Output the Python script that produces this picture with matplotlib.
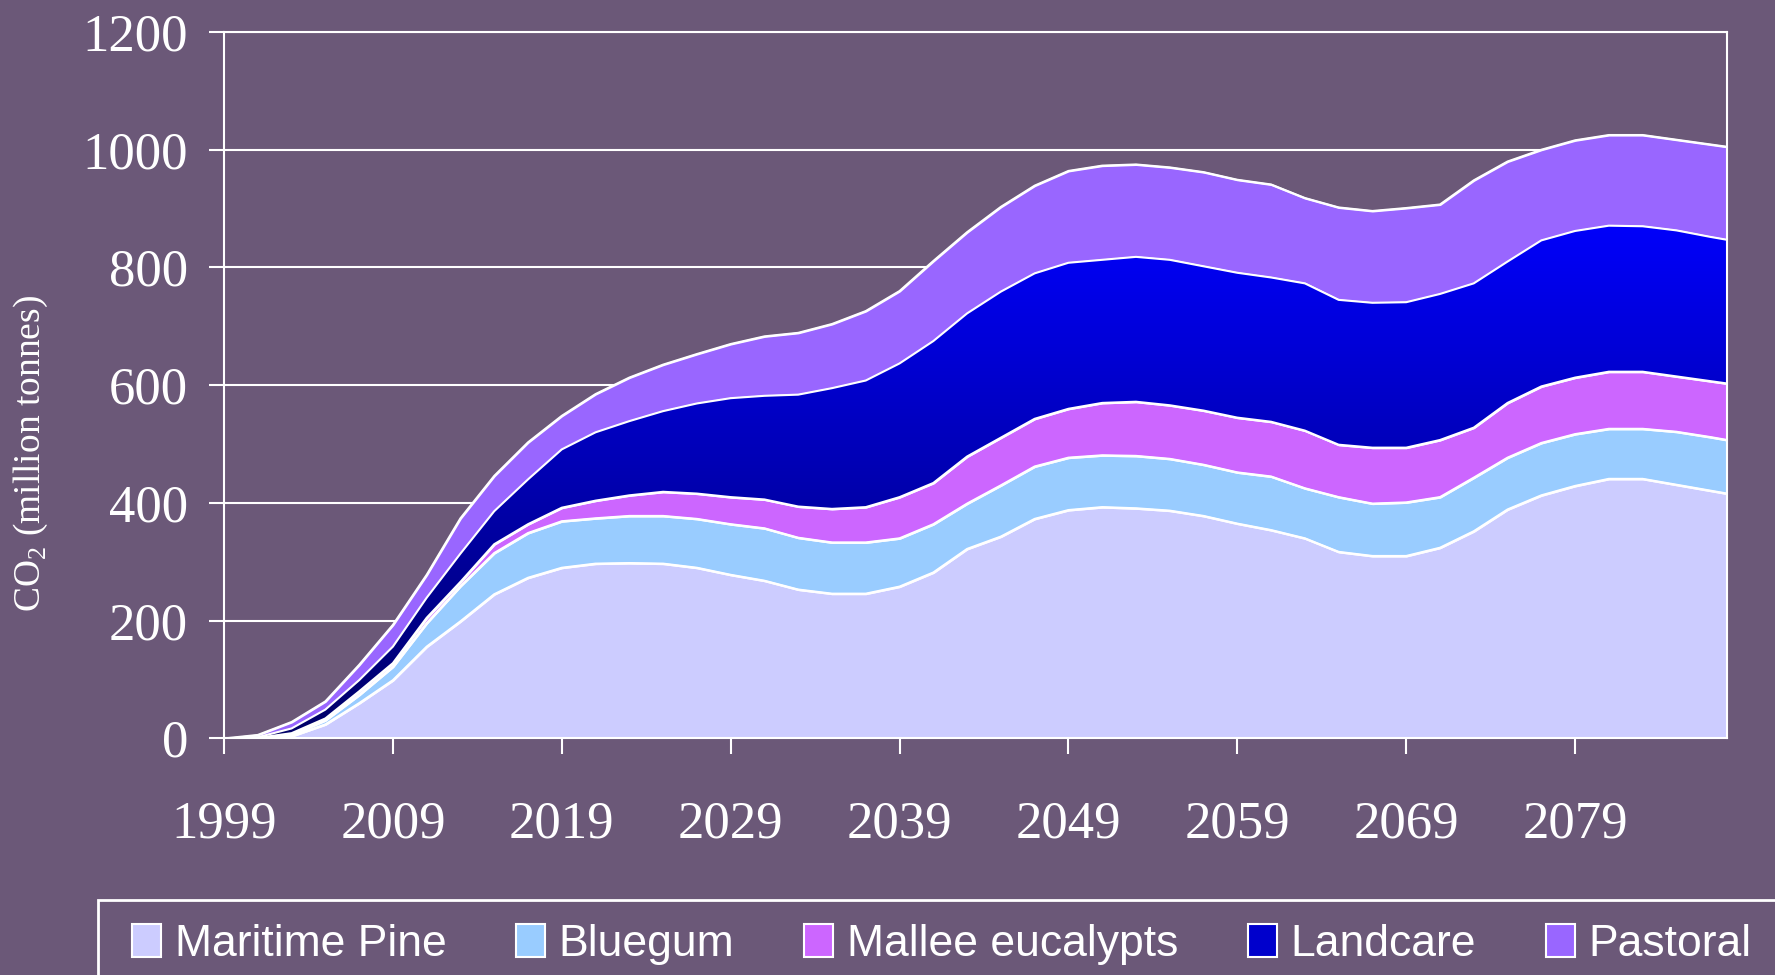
import numpy as np
import matplotlib.pyplot as plt
from matplotlib.patches import Rectangle
from matplotlib.colors import LinearSegmentedColormap

# carbon stored, million tonnes CO2
years = [1999, 2001, 2003, 2005, 2007, 2009, 2011, 2013, 2015, 2017, 2019, 2021,
         2023, 2025, 2027, 2029, 2031, 2033, 2035, 2037, 2039, 2041, 2043, 2045,
         2047, 2049, 2051, 2053, 2055, 2057, 2059, 2061, 2063, 2065, 2067, 2069,
         2071, 2073, 2075, 2077, 2079, 2081, 2083, 2085, 2087, 2088]
maritime_pine = [0, 0.5, 4, 24, 60, 99, 156, 199, 245, 273, 290, 297,
                 298, 297, 290, 278, 268, 253, 246, 246, 258, 282, 322, 343,
                 373, 388, 393, 391, 387, 378, 365, 354, 340, 317, 310, 310,
                 324, 352, 389, 413, 429, 441, 441, 431, 421, 416]
bluegum = [0, 0.5, 2, 7, 14, 23, 40, 60, 70, 76, 79, 77,
           80, 81, 83, 86, 89, 88, 87, 87, 82, 82, 77, 87,
           89, 89, 88, 89, 88, 87, 87, 91, 85, 93, 89, 91,
           86, 91, 88, 89, 88, 85, 85, 90, 91, 91]
mallee = [0, 0, 3, 3, 6, 6, 9, 7, 15, 15, 23, 30,
          35, 41, 43, 46, 49, 53, 57, 60, 70, 70, 80, 81,
          81, 83, 89, 92, 91, 92, 93, 93, 98, 89, 95, 93,
          97, 85, 93, 96, 96, 97, 97, 94, 95, 96]
landcare = [0, 1, 8, 15, 19, 28, 34, 48, 56, 76, 99, 116,
            126, 137, 153, 168, 176, 190, 205, 215, 227, 241, 243, 248,
            247, 248, 243, 246, 247, 245, 246, 245, 250, 246, 246, 247,
            248, 245, 240, 248, 249, 248, 247, 248, 245, 244]
pastoral = [0, 4, 11, 14, 26, 37, 39, 60, 60, 63, 57, 65,
            74, 79, 84, 92, 101, 105, 109, 118, 123, 136, 138, 144,
            149, 156, 160, 157, 157, 160, 158, 158, 145, 157, 156, 160,
            152, 175, 170, 154, 154, 154, 155, 154, 157, 158]

labels = ['Maritime Pine', 'Bluegum', 'Mallee eucalypts', 'Landcare', 'Pastoral']
colors = ['#ccccff', '#99ccff', '#cc66ff', '#0000cc', '#9966ff']
bg = '#6b5878'

plt.rcParams['mathtext.fontset'] = 'custom'
plt.rcParams['mathtext.rm'] = 'Liberation Serif'

fig = plt.figure(figsize=(17.75, 9.75), dpi=100, facecolor=bg)
ax = fig.add_axes([0.1262, 0.2426, 0.8468, 0.7246])
ax.set_facecolor('none')

series = [maritime_pine, bluegum, mallee, landcare, pastoral]
polys = ax.stackplot(years, *series, colors=colors, labels=labels,
                     edgecolor='white', linewidth=1.5, zorder=2)

# landcare band has a vertical gradient fill (dark navy at the bottom)
grad = np.linspace(0, 1, 256).reshape(-1, 1)
cmap = LinearSegmentedColormap.from_list('lc', ['#000066', '#0000ff'])
img = ax.imshow(grad, extent=(1999, 2088, 0, 900), origin='lower',
                aspect='auto', cmap=cmap, zorder=2.2)
img.set_clip_path(polys[3].get_paths()[0], ax.transData)

tops = np.cumsum(np.array(series, dtype=float), axis=0)
for t in tops:
    ax.plot(years, t, color='white', lw=1.5, zorder=3)

ax.set_xlim(1999, 2088)
ax.set_ylim(0, 1200)
ax.set_yticks(range(0, 1201, 200))
ax.set_xticks(range(1999, 2080, 10))
ax.yaxis.grid(True, color='white', lw=1.5)
ax.set_axisbelow(True)
for s in ax.spines.values():
    s.set_color('white')
    s.set_linewidth(1.5)
    s.set_zorder(4)
ax.tick_params(axis='both', colors='white', width=1.5, direction='out',
               labelsize=38, labelfontfamily='Liberation Serif')
ax.tick_params(axis='y', length=11, pad=15)
ax.tick_params(axis='x', length=11.5, pad=33)

fig.text(31 / 1775, 1 - 454 / 975, 'CO$_\\mathregular{2}$ (million tonnes)',
         rotation=90, ha='center', va='center', color='white',
         fontsize=27, family='Liberation Serif')

fig.legend(handles=polys, labels=labels, loc='upper left',
           bbox_to_anchor=(132 / 1775, 1 - 924 / 975), ncol=5, frameon=False,
           prop={'family': 'Liberation Sans', 'size': 32},
           handlelength=0.65, handleheight=0.74, handletextpad=0.31,
           columnspacing=1.57, borderpad=0, borderaxespad=0, labelcolor='white')
fig.add_artist(Rectangle((97.6 / 1775, -0.1), 1.1, 1 - 900 / 975 + 0.1,
                         transform=fig.transFigure, fill=False,
                         edgecolor='white', lw=2))

fig.savefig('out.png', dpi=100, facecolor=bg)
